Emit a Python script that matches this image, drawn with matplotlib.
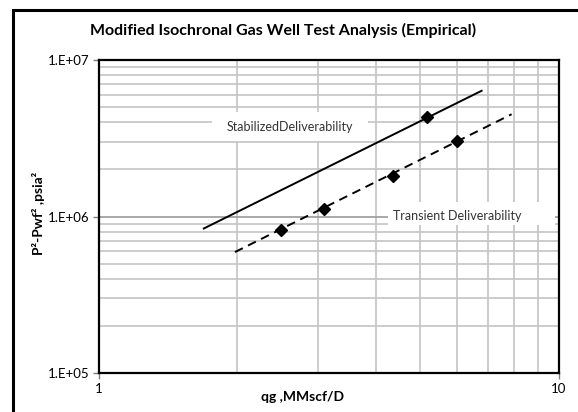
import matplotlib
matplotlib.use('Agg')
import matplotlib.pyplot as plt
from matplotlib.patches import Rectangle
from matplotlib.ticker import LogLocator, FixedLocator, NullFormatter

plt.rcParams['font.family'] = ['Lato', 'DejaVu Sans']

# Test points
transient_q = [2.49, 3.08, 4.35, 5.99]
transient_dp = [8.15e5, 1.12e6, 1.81e6, 3.02e6]
stabilized_q = [5.17]
stabilized_dp = [4.34e6]

# Deliverability lines (end points)
stab_line_q = [1.69, 6.79]
stab_line_dp = [8.39e5, 6.37e6]
trans_line_q = [1.975, 7.89]
trans_line_dp = [5.93e5, 4.51e6]

y_ticks = [1e5, 1e6, 1e7]
y_tick_labels = ['1.E+05', '1.E+06', '1.E+07']
x_ticks = [1, 10]
x_tick_labels = ['1', '10']


def plot_chart():
    fig = plt.figure(figsize=(5.78, 4.12), dpi=100)
    ax = fig.add_axes([0.1713, 0.0947, 0.7957, 0.7593])
    ax.set_xscale('log')
    ax.set_yscale('log')
    ax.set_xlim(1, 10)
    ax.set_ylim(1e5, 1e7)

    # grid
    ax.xaxis.set_minor_locator(LogLocator(base=10, subs=range(2, 10)))
    ax.yaxis.set_minor_locator(LogLocator(base=10, subs=range(2, 10)))
    ax.xaxis.set_minor_formatter(NullFormatter())
    ax.yaxis.set_minor_formatter(NullFormatter())
    ax.grid(True, which='major', color='#9a9a9a', linewidth=1.2, zorder=0)
    ax.grid(True, which='minor', color='#c4c4c4', linewidth=1.2, zorder=0)
    ax.set_axisbelow(True)

    ax.xaxis.set_major_locator(FixedLocator(x_ticks))
    ax.set_xticklabels(x_tick_labels)
    ax.yaxis.set_major_locator(FixedLocator(y_ticks))
    ax.set_yticklabels(y_tick_labels)
    ax.tick_params(which='minor', length=0)
    ax.tick_params(which='major', length=4, width=1, color='#808080',
                   labelsize=9.5, pad=3)

    for s in ax.spines.values():
        s.set_color('black')
        s.set_linewidth(1.6)

    # white label boxes covering the grid
    ax.add_patch(Rectangle((0.246, 0.741), 0.339, 0.093, transform=ax.transAxes,
                           facecolor='white', edgecolor='none', zorder=1))
    ax.add_patch(Rectangle((0.628, 0.473), 0.363, 0.073, transform=ax.transAxes,
                           facecolor='white', edgecolor='none', zorder=1))

    ax.plot(stab_line_q, stab_line_dp, color='black', linewidth=1.4, zorder=3)
    ax.plot(trans_line_q, trans_line_dp, color='black', linewidth=1.4,
            linestyle=(0, (4.5, 3)), zorder=3)
    ax.plot(transient_q + stabilized_q, transient_dp + stabilized_dp, linestyle='none',
            marker='D', markersize=6.5, color='black', zorder=4)

    ax.text(0.415, 0.786, 'StabilizedDeliverability', transform=ax.transAxes,
            ha='center', va='center', fontsize=9, color='#333333', zorder=5)
    ax.text(0.780, 0.502, 'Transient Deliverability', transform=ax.transAxes,
            ha='center', va='center', fontsize=9, color='#333333', zorder=5)

    fig.text(0.49, 0.927, 'Modified Isochronal Gas Well Test Analysis (Empirical)',
             ha='center', va='center', fontsize=11.5, fontweight='bold')
    fig.text(0.524, 0.036, 'qg ,MMscf/D', ha='center', va='center',
             fontsize=10, fontweight='bold')
    fig.text(0.067, 0.483, 'P²-Pwf² ,psia²', ha='center', va='center',
             rotation=90, fontsize=10, fontweight='bold')

    # outer chart border
    fig.patches.append(Rectangle((13 / 578, -0.1), 1.2, 1.1 - 10 / 412,
                                 transform=fig.transFigure, fill=False,
                                 edgecolor='black', linewidth=2.2))

    fig.savefig('out.png', dpi=100)


if __name__ == "__main__":
    plot_chart()
